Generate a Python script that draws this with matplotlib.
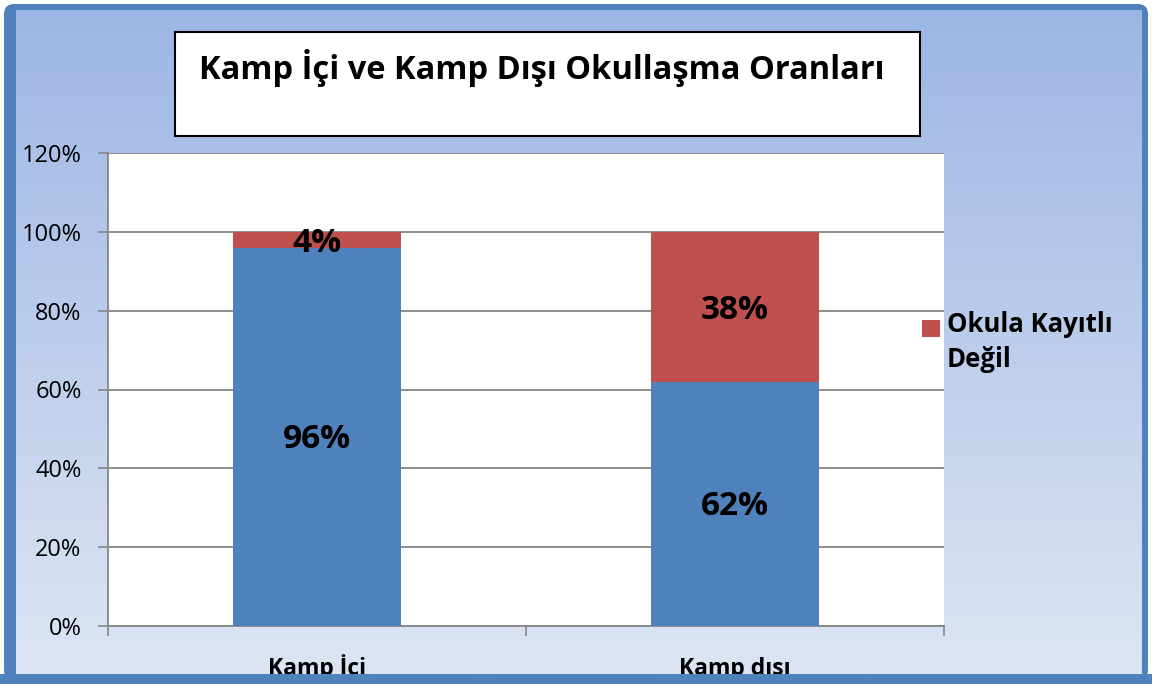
import numpy as np
import matplotlib.pyplot as plt
from matplotlib.patches import Rectangle, FancyBboxPatch

plt.rcParams['font.family'] = ['Open Sans', 'DejaVu Sans']

categories = ['Kamp İçi', 'Kamp dışı']
kayitli = [0.96, 0.62]
kayitli_degil = [0.04, 0.38]
yticks = [0, 0.2, 0.4, 0.6, 0.8, 1.0, 1.2]
ytick_labels = ['0%', '20%', '40%', '60%', '80%', '100%', '120%']
title = 'Kamp İçi ve Kamp Dışı Okullaşma Oranları'
legend_label = 'Okula Kayıtlı\nDeğil'

blue = '#4f81bd'
red = '#c0504d'

W, H = 1152, 684
fig = plt.figure(figsize=(W / 100, H / 100), dpi=100)
fig.patch.set_facecolor('white')

# background: dark frame + vertical gradient
bg = fig.add_axes([0, 0, 1, 1], zorder=-5)
bg.set_xlim(0, W)
bg.set_ylim(H, 0)
bg.axis('off')
bg.add_patch(FancyBboxPatch((4, 4), W - 8, H - 8, boxstyle='round,pad=0,rounding_size=10',
                            facecolor=blue, edgecolor='none'))
grad = np.linspace(0, 1, 256).reshape(-1, 1)
top_c = np.array([0x9c, 0xb6, 0xe4]) / 255
bot_c = np.array([0xdd, 0xe5, 0xf4]) / 255
img = top_c[None, None, :] * (1 - grad[:, :, None]) + bot_c[None, None, :] * grad[:, :, None]
bg.imshow(img, extent=[16, 1142, 674, 10], aspect='auto', zorder=1)
bg.set_xlim(0, W)
bg.set_ylim(H, 0)

# title box
bg.add_patch(Rectangle((175, 32), 745, 104, facecolor='white', edgecolor='black', lw=1.5, zorder=2))
bg.text(542, 79, title, ha='center', va='baseline', fontsize=23.5, fontweight='bold', zorder=3)

# main axes
ax = fig.add_axes([108 / W, 1 - 626 / H, (944 - 108) / W, (626 - 153) / H])
ax.set_facecolor('white')
x = np.arange(len(categories))
ax.bar(x, kayitli, width=0.4, color=blue, zorder=3)
ax.bar(x, kayitli_degil, width=0.4, bottom=kayitli, color=red, zorder=3)

for i in range(len(categories)):
    ax.text(x[i], kayitli[i] / 2 - 0.008, '%d%%' % round(kayitli[i] * 100), ha='center', va='center',
            fontsize=24, fontweight='bold', zorder=4)
    ax.text(x[i], kayitli[i] + kayitli_degil[i] / 2 - 0.01, '%d%%' % round(kayitli_degil[i] * 100),
            ha='center', va='center', fontsize=24, fontweight='bold', zorder=4)

ax.set_xlim(-0.5, 1.5)
ax.set_ylim(0, 1.2)
ax.set_yticks(yticks)
ax.set_yticklabels(ytick_labels)
ax.yaxis.grid(True, color='#868686', lw=1.3, zorder=0)
ax.tick_params(axis='y', length=7, width=1.2, color='#868686', pad=12, labelsize=17)
ax.set_xticks(x)
ax.set_xticklabels(categories, fontweight='bold', fontsize=16.5, va='baseline')
ax.tick_params(axis='x', which='major', length=0, pad=35)
ax.set_xticks([-0.5, 0.5, 1.5], minor=True)
ax.tick_params(axis='x', which='minor', length=7, width=1.2, color='#868686')
for s in ['top', 'right']:
    ax.spines[s].set_visible(False)
for s in ['left', 'bottom']:
    ax.spines[s].set_color('#868686')
    ax.spines[s].set_linewidth(1.3)

# overlay: legend (only the red series shown) and bottom frame edge clipping the x labels
top = fig.add_axes([0, 0, 1, 1], zorder=10)
top.set_xlim(0, W)
top.set_ylim(H, 0)
top.axis('off')
top.add_patch(Rectangle((922, 320), 18, 17, facecolor=red, edgecolor='none'))
top.text(947, 311, legend_label, ha='left', va='top', fontsize=18.5, fontweight='bold',
         linespacing=1.4)
top.add_patch(Rectangle((0, 674), W, 10, facecolor=blue, edgecolor='none'))

fig.savefig('out.png', dpi=100)
